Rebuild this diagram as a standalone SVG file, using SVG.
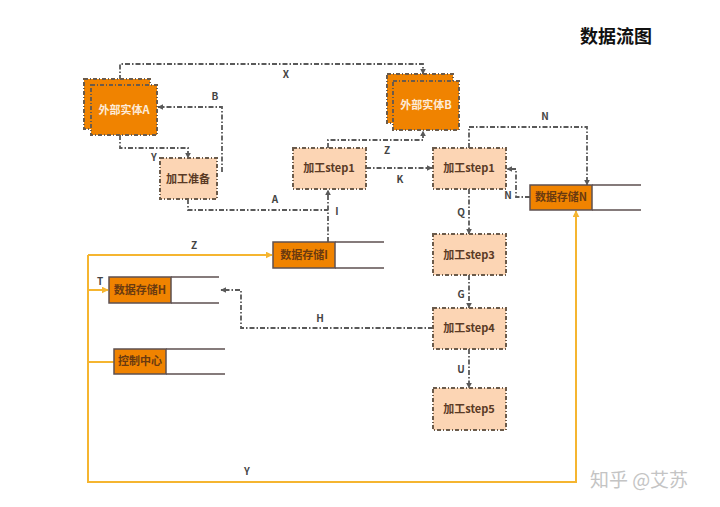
<svg xmlns="http://www.w3.org/2000/svg" width="720" height="507" viewBox="0 0 720 507">
<defs>
<marker id="ag" viewBox="0 0 10 10" refX="9" refY="5" markerWidth="6" markerHeight="6" orient="auto" markerUnits="userSpaceOnUse"><path d="M0,0 L10,5 L0,10 z" fill="#595959"/></marker>
<marker id="ay" viewBox="0 0 10 10" refX="9" refY="5" markerWidth="7" markerHeight="7" orient="auto" markerUnits="userSpaceOnUse"><path d="M0,0 L10,5 L0,10 z" fill="#F5B530"/></marker>
<style>
text{font-family:"Noto Sans CJK SC","Liberation Sans",sans-serif;}
.ent{fill:#F08300;stroke:#6B5B4B;stroke-width:2;stroke-dasharray:4 2 1 2;}
.proc{fill:#FCD5B4;stroke:#6B5B4B;stroke-width:2;stroke-dasharray:4 2 1 2;}
.store{fill:#F08300;stroke:#5E5050;stroke-width:1.5;}
.sl{stroke:#5E5050;stroke-width:1.5;fill:none;}
.c{fill:none;stroke:#595959;stroke-width:1.8;stroke-dasharray:5 2 1.5 2;}
.y{fill:none;stroke:#F5B530;stroke-width:2;}
.t{font-size:11px;font-weight:bold;text-anchor:middle;}
.tp{fill:#5A3A25;}
.te{fill:#FDEBD8;}
.ts{fill:#6A3A10;}
.lb{font-size:10px;font-weight:bold;fill:#444;text-anchor:middle;}
</style>
</defs>
<rect width="720" height="507" fill="#ffffff"/>
<text x="616" y="43" font-size="18" font-weight="bold" text-anchor="middle" fill="#111">数据流图</text>
<text x="639" y="487" font-size="19" text-anchor="middle" fill="#c4c4c4">知乎 @艾苏</text>

<g id="connectors">
<path class="c" d="M120,80 V64 H423 V74" marker-end="url(#ag)"/>
<path class="c" d="M222,172 V107 H158" marker-end="url(#ag)"/>
<path class="c" d="M120,135 V148 H188 V158" marker-end="url(#ag)"/>
<path class="c" d="M188,199 V210 H328"/>
<path class="c" d="M328,242 V190" marker-end="url(#ag)"/>
<path class="c" d="M328,148 V140 H423 V131" marker-end="url(#ag)"/>
<path class="c" d="M366,168 H432" marker-end="url(#ag)"/>
<path class="c" d="M469,148 V127 H587 V185" marker-end="url(#ag)"/>
<path class="c" d="M530,197 H516 V169 H507" marker-end="url(#ag)"/>
<path class="c" d="M469,189 V234" marker-end="url(#ag)"/>
<path class="c" d="M469,275 V308" marker-end="url(#ag)"/>
<path class="c" d="M433,328 H241 V290 H221" marker-end="url(#ag)"/>
<path class="c" d="M469,349 V388" marker-end="url(#ag)"/>
<path class="y" d="M88,255 V482 H576 V211" marker-end="url(#ay)"/>
<path class="y" d="M88,255 H272" marker-end="url(#ay)"/>
<path class="y" d="M88,290 H108" marker-end="url(#ay)"/>
<path class="y" d="M88,362 H114"/>
<text class="lb" x="286" y="78">X</text>
<text class="lb" x="215" y="100">B</text>
<text class="lb" x="154" y="161">Y</text>
<text class="lb" x="275" y="203">A</text>
<text class="lb" x="337" y="215">I</text>
<text class="lb" x="387" y="154">Z</text>
<text class="lb" x="400" y="183">K</text>
<text class="lb" x="545" y="120">N</text>
<text class="lb" x="508" y="199">N</text>
<text class="lb" x="461" y="216">Q</text>
<text class="lb" x="461" y="298">G</text>
<text class="lb" x="320" y="322">H</text>
<text class="lb" x="461" y="373">U</text>
<text class="lb" x="194" y="249" font-size="9">Z</text>
<text class="lb" x="100" y="285" font-size="9">T</text>
<text class="lb" x="247" y="475" font-size="9">Y</text>
</g>

<g id="entityA">
<rect class="ent" x="84" y="79" width="66" height="50"/>
<rect class="ent" x="91" y="85" width="66" height="50"/>
<text class="t te" x="124" y="114">外部实体A</text>
</g>
<g id="entityB">
<rect class="ent" x="387" y="74" width="66" height="49"/>
<rect class="ent" x="393" y="81" width="66" height="49"/>
<text class="t te" x="426" y="109">外部实体B</text>
</g>
<g id="prep">
<rect class="proc" x="160" y="158" width="57" height="41"/>
<text class="t tp" x="188" y="183">加工准备</text>
</g>
<g id="step1a">
<rect class="proc" x="293" y="148" width="73" height="41"/>
<text class="t tp" x="329" y="172">加工step1</text>
</g>
<g id="step1b">
<rect class="proc" x="433" y="148" width="73" height="41"/>
<text class="t tp" x="469" y="172">加工step1</text>
</g>
<g id="step3">
<rect class="proc" x="433" y="234" width="73" height="41"/>
<text class="t tp" x="469" y="259">加工step3</text>
</g>
<g id="step4">
<rect class="proc" x="433" y="308" width="73" height="41"/>
<text class="t tp" x="469" y="332">加工step4</text>
</g>
<g id="step5">
<rect class="proc" x="433" y="388" width="73" height="42"/>
<text class="t tp" x="469" y="413">加工step5</text>
</g>
<g id="storeN">
<rect class="store" x="530" y="185" width="62" height="25"/>
<path class="sl" d="M592,185 H641 M592,210 H641"/>
<text class="t ts" x="561" y="201">数据存储N</text>
</g>
<g id="storeI">
<rect class="store" x="273" y="242" width="62" height="26"/>
<path class="sl" d="M335,242 H384 M335,268 H384"/>
<text class="t ts" x="304" y="259">数据存储I</text>
</g>
<g id="storeH">
<rect class="store" x="109" y="277" width="62" height="26"/>
<path class="sl" d="M171,277 H219 M171,303 H219"/>
<text class="t ts" x="140" y="294">数据存储H</text>
</g>
<g id="control">
<rect class="store" x="114" y="349" width="52" height="25"/>
<path class="sl" d="M166,349 H225 M166,374 H225"/>
<text class="t ts" x="140" y="365">控制中心</text>
</g>
</svg>
